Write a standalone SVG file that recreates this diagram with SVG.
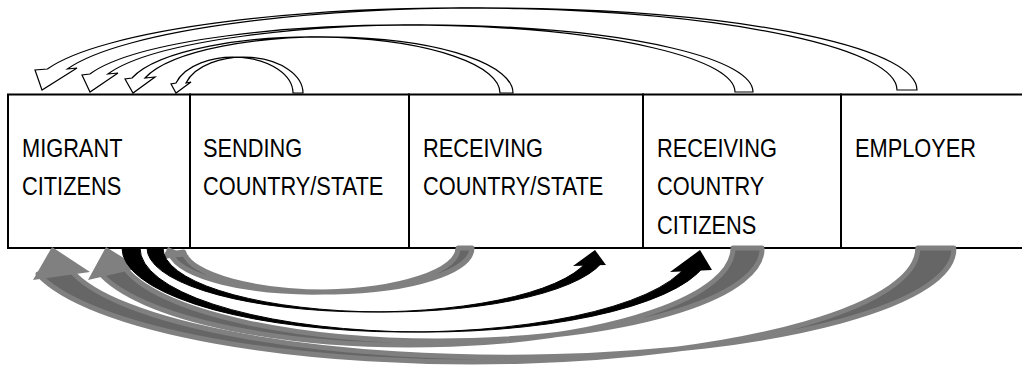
<svg xmlns="http://www.w3.org/2000/svg" width="1022" height="369" viewBox="0 0 1022 369">
<style>
.cell{fill:#fff;stroke:#000;stroke-width:2}
.lbl{font-family:"Liberation Sans",Arial,sans-serif;font-size:25px;fill:#000}
.up{fill:#fff;stroke:#000;stroke-width:1.2;stroke-linejoin:miter}
.gb{fill:#666;stroke:#808080;stroke-width:5;stroke-linejoin:round}
.gh{fill:#808080}
.kb{fill:#000;stroke:#000;stroke-width:1}
.kh{fill:#000}
</style>
<rect width="1022" height="369" fill="#fff"/>
<g id="node-migrant">
<rect class="cell" x="8" y="94.5" width="182" height="153.5"/>
<text class="lbl" transform="translate(22,157) scale(0.872,1)"><tspan x="0" y="0">MIGRANT</tspan><tspan x="0" y="38.5">CITIZENS</tspan></text>
</g>
<g id="node-sending">
<rect class="cell" x="190" y="94.5" width="219" height="153.5"/>
<text class="lbl" transform="translate(203,157) scale(0.872,1)"><tspan x="0" y="0">SENDING</tspan><tspan x="0" y="38.5">COUNTRY/STATE</tspan></text>
</g>
<g id="node-receiving-state">
<rect class="cell" x="409" y="94.5" width="234" height="153.5"/>
<text class="lbl" transform="translate(423,157) scale(0.872,1)"><tspan x="0" y="0">RECEIVING</tspan><tspan x="0" y="38.5">COUNTRY/STATE</tspan></text>
</g>
<g id="node-receiving-citizens">
<rect class="cell" x="643" y="94.5" width="198" height="153.5"/>
<text class="lbl" transform="translate(657,157) scale(0.872,1)"><tspan x="0" y="0">RECEIVING</tspan><tspan x="0" y="38.5">COUNTRY</tspan><tspan x="0" y="77">CITIZENS</tspan></text>
</g>
<g id="node-employer">
<rect class="cell" x="841" y="94.5" width="190" height="153.5"/>
<text class="lbl" transform="translate(855,157) scale(0.872,1)"><tspan x="0" y="0">EMPLOYER</tspan></text>
</g>
<g id="connectors">
<path class="up" d="M 917,90 A 432 82 0 0 0 67.4,69 L 77,68 L 42,90 L 35,70 L 47.4,69 A 432 82 0 0 1 897,90 Z"/>
<path class="up" d="M 753,92 A 328.6 67 0 0 0 107.9,74 L 118,73 L 90,92 L 82,75 L 89.9,74 A 328.6 67 0 0 1 735,92 Z"/>
<path class="up" d="M 513,93 A 187.4 56 0 0 0 145,78 L 155,77 L 133,93 L 125,79 L 132,78 A 187.4 56 0 0 1 500,93 Z"/>
<path class="up" d="M 303,93 A 59.7 36 0 0 0 186,83 L 191,82 L 176,93 L 171,84 L 176,83 A 59.7 36 0 0 1 293,93 Z"/>
<path class="gb" d="M 953.8,248 A 445.8 108 0 0 1 70.6,270 L 38,274 A 445.8 114 0 0 0 917.8,248 Z"/>
<polygon class="gh" points="33,280 52,247 90,272"/>
<path class="gb" d="M 762,248 A 322 92 0 0 1 123.6,266 L 99,272 A 322 97 0 0 0 733,248 Z"/>
<polygon class="gh" points="88,280 106,247 140,268"/>
<path class="gb" d="M 472,248 A 144.5 44 0 0 1 183.6,252 L 170.3,254 A 144.5 44 0 0 0 458,248 Z"/>
<polygon class="gh" points="162,259 168,247 189,256"/>
<path class="kb" d="M 147,248 A 222.4 64 0 0 0 586.4,262 L 601.6,263 A 222.4 64 0 0 1 163,248 Z"/>
<polygon class="kh" points="573,266 595,250 606,265"/>
<path class="kb" d="M 122,248 A 285.4 84 0 0 0 686.2,266 L 704.2,266 A 285.4 84 0 0 1 140,248 Z"/>
<polygon class="kh" points="670,272 700,250 712,270"/>
</g>
</svg>
